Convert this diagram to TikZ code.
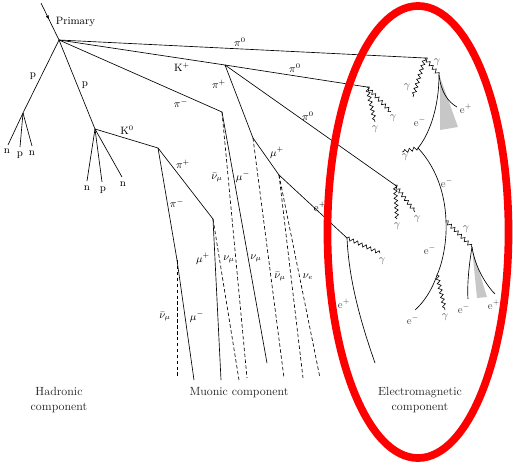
\documentclass[tikz,border=0pt]{standalone}
\usetikzlibrary{decorations.pathmorphing,decorations.markings,arrows.meta}
\begin{document}
\begin{tikzpicture}[x=0.845pt,y=-0.845pt,
  track/.style={line width=0.55pt},
  nutrack/.style={line width=0.55pt, dash pattern=on 3pt off 2pt},
  photon/.style={line width=0.5pt, decorate, decoration={snake, segment length=4pt, amplitude=1.5pt}},
  lab/.style={font=\small, inner sep=0.5pt},
  emlab/.style={lab, text=black!70},
  caption/.style={align=center, font=\normalsize, text=black!85},
  fan/.style={fill=black!22, draw=none}]
\useasboundingbox (0,0) rectangle (513,464);
% vertices
\coordinate (P0) at (41,3);
\coordinate (V0) at (59,40);
\coordinate (G1) at (425,58);
\coordinate (K) at (225,65);
\coordinate (G2) at (367,87);
\coordinate (PiPK) at (253,138);
\coordinate (G3) at (395,185);
\coordinate (PimV) at (222,112);
\coordinate (PL) at (23,113);
\coordinate (PR) at (95,129);
\coordinate (K0) at (158,148);
\coordinate (PipK0) at (213,219);
\coordinate (PimK0) at (177,260);
\coordinate (MuP) at (279,175);
\coordinate (Ep) at (347,238);
\coordinate (Gc) at (439,75);
\coordinate (E1) at (418,148);
\coordinate (E2) at (446,221);
\coordinate (E3) at (437,275);
\coordinate (Gd) at (472,247);
% end points
\coordinate (n1) at (8,145); \coordinate (p1) at (20,147); \coordinate (n2) at (32,146);
\coordinate (n3) at (87,181); \coordinate (p2) at (102,182); \coordinate (n4) at (122,177);
\coordinate (a1) at (177,378); \coordinate (m1) at (194,380);
\coordinate (m2) at (221,380); \coordinate (a2) at (239,380);
\coordinate (a3) at (247,378); \coordinate (m3) at (267,363);
\coordinate (a4) at (284,378); \coordinate (a5) at (303,378); \coordinate (a6) at (320,378);
\coordinate (epend) at (375,363);
\coordinate (g1a) at (413,97); \coordinate (g2a) at (375,122); \coordinate (g2b) at (391,112);
\coordinate (g3a) at (397,219); \coordinate (g3b) at (415,212); \coordinate (gepa) at (380,253);
\coordinate (ge1) at (402,152); \coordinate (ge3) at (445,310);
\coordinate (ec) at (457,107); \coordinate (e3end) at (415,310);
\coordinate (ed1) at (468,299); \coordinate (ed2) at (495,294);
% shower cones
\fill[fan] (440,77) -- (440,130) -- (458,127) -- cycle;
\fill[fan] (472,248) -- (477,298) -- (487,297) -- cycle;
% primary
\draw[track, postaction={decorate}, decoration={markings, mark=at position 0.45 with {\arrow{Latex[length=3.5pt,width=2.8pt]}}}] (P0) -- (V0);
% hadronic tracks
\draw[track] (V0) -- (G1);
\draw[track] (V0) -- (K);
\draw[track] (K) -- (G2);
\draw[track] (K) -- (PiPK);
\draw[track] (K) -- (G3);
\draw[track] (V0) -- (PimV);
\draw[track] (V0) -- (PL);
\draw[track] (V0) -- (PR);
\draw[track] (PL) -- (n1); \draw[track] (PL) -- (p1); \draw[track] (PL) -- (n2);
\draw[track] (PR) -- (n3); \draw[track] (PR) -- (p2); \draw[track] (PR) -- (n4);
\draw[track] (PR) -- (K0);
\draw[track] (K0) -- (PipK0);
\draw[track] (K0) -- (PimK0);
% muonic
\draw[nutrack] (PimK0) -- (a1);
\draw[track] (PimK0) -- (m1);
\draw[track] (PipK0) -- (m2);
\draw[nutrack] (PipK0) -- (a2);
\draw[nutrack] (PimV) -- (a3);
\draw[track] (PimV) -- (m3);
\draw[nutrack] (PiPK) -- (a4);
\draw[track] (PiPK) -- (MuP);
\draw[nutrack] (MuP) -- (a5);
\draw[nutrack] (MuP) -- (a6);
\draw[track] (MuP) -- (Ep);
\draw[track] (Ep) .. controls (349,280) and (360,320) .. (epend);
% photons
\draw[photon] (G1) -- (g1a);
\draw[photon] (G1) -- (Gc);
\draw[photon] (G2) -- (g2a);
\draw[photon] (G2) -- (g2b);
\draw[photon] (G3) -- (g3a);
\draw[photon] (G3) -- (g3b);
\draw[photon] (Ep) -- (gepa);
\draw[photon] (E1) -- (ge1);
\draw[photon] (E2) -- (Gd);
\draw[photon] (E3) -- (ge3);
% electrons
\draw[track] (Gc) .. controls (441,92) and (448,102) .. (ec);
\draw[track] (Gc) .. controls (439,110) and (428,136) .. (E1);
\draw[track] (E1) .. controls (434,165) and (445,190) .. (E2);
\draw[track] (E2) .. controls (447,240) and (443,262) .. (E3);
\draw[track] (E3) .. controls (432,290) and (424,302) .. (e3end);
\draw[track] (Gd) .. controls (469,265) and (467,285) .. (ed1);
\draw[track] (Gd) .. controls (475,268) and (487,286) .. (ed2);
% labels
\node[lab, anchor=west] (lprim) at (55,22) {Primary};
\node[lab] (l1) at (240,42) {$\pi^0$};
\node[lab] (l2) at (182,67) {K$^+$};
\node[lab] (l3) at (295,68) {$\pi^0$};
\node[lab] (l4) at (219,84) {$\pi^+$};
\node[lab] (l5) at (308,116) {$\pi^0$};
\node[lab] (l6) at (181,103) {$\pi^-$};
\node[lab] (l7) at (85,85) {p};
\node[lab] (l8) at (33,76) {p};
\node[lab] (l9) at (7,151) {n};
\node[lab] (l10) at (20,155) {p};
\node[lab] (l11) at (32,153) {n};
\node[lab] (l12) at (127,130) {K$^0$};
\node[lab] (l13) at (87,188) {n};
\node[lab] (l14) at (103,190) {p};
\node[lab] (l15) at (123,184) {n};
\node[lab] (l16) at (183,164) {$\pi^+$};
\node[lab] (l17) at (177,203) {$\pi^-$};
\node[lab] (l18) at (217,178) {$\bar\nu_\mu$};
\node[lab] (l19) at (243,177) {$\mu^-$};
\node[lab] (l20) at (277,153) {$\mu^+$};
\node[lab] (l21) at (320,207) {e$^+$};
\node[lab] (l22) at (165,317) {$\bar\nu_\mu$};
\node[lab] (l23) at (197,317) {$\mu^-$};
\node[lab] (l24) at (203,259) {$\mu^+$};
\node[lab] (l25) at (229,259) {$\nu_\mu$};
\node[lab] (l26) at (256,258) {$\nu_\mu$};
\node[lab] (l27) at (280,277) {$\bar\nu_\mu$};
\node[lab] (l28) at (308,277) {$\nu_e$};
\node[emlab] (l29) at (344,304) {e$^+$};
% EM labels
\node[emlab] (m1l) at (407,87) {$\gamma$};
\node[emlab] (m2l) at (437,62) {$\gamma$};
\node[emlab] (m3l) at (466,109) {e$^+$};
\node[emlab] (m4l) at (420,122) {e$^-$};
\node[emlab] (m5l) at (405,157) {$\gamma$};
\node[emlab] (m6l) at (375,129) {$\gamma$};
\node[emlab] (m7l) at (393,118) {$\gamma$};
\node[emlab] (m8l) at (447,183) {e$^-$};
\node[emlab] (m9l) at (397,226) {$\gamma$};
\node[emlab] (m10l) at (417,219) {$\gamma$};
\node[emlab] (m11l) at (382,261) {$\gamma$};
\node[emlab] (m12l) at (466,229) {$\gamma$};
\node[emlab] (m13l) at (430,250) {e$^-$};
\node[emlab] (m14l) at (445,317) {$\gamma$};
\node[emlab] (m15l) at (413,320) {e$^-$};
\node[emlab] (m16l) at (464,309) {e$^-$};
\node[emlab] (m17l) at (494,305) {e$^+$};
% captions
\node[caption] (ch) at (59,400) {Hadronic\\component};
\node[caption, anchor=center] (cm) at (239,393) {Muonic component};
\node[caption] (ce) at (420,400) {Electromagnetic\\component};
% red ellipse
\draw[red, line width=6.5pt] (418,232) ellipse [x radius=76.5pt, y radius=191pt];
\end{tikzpicture}
\end{document}
